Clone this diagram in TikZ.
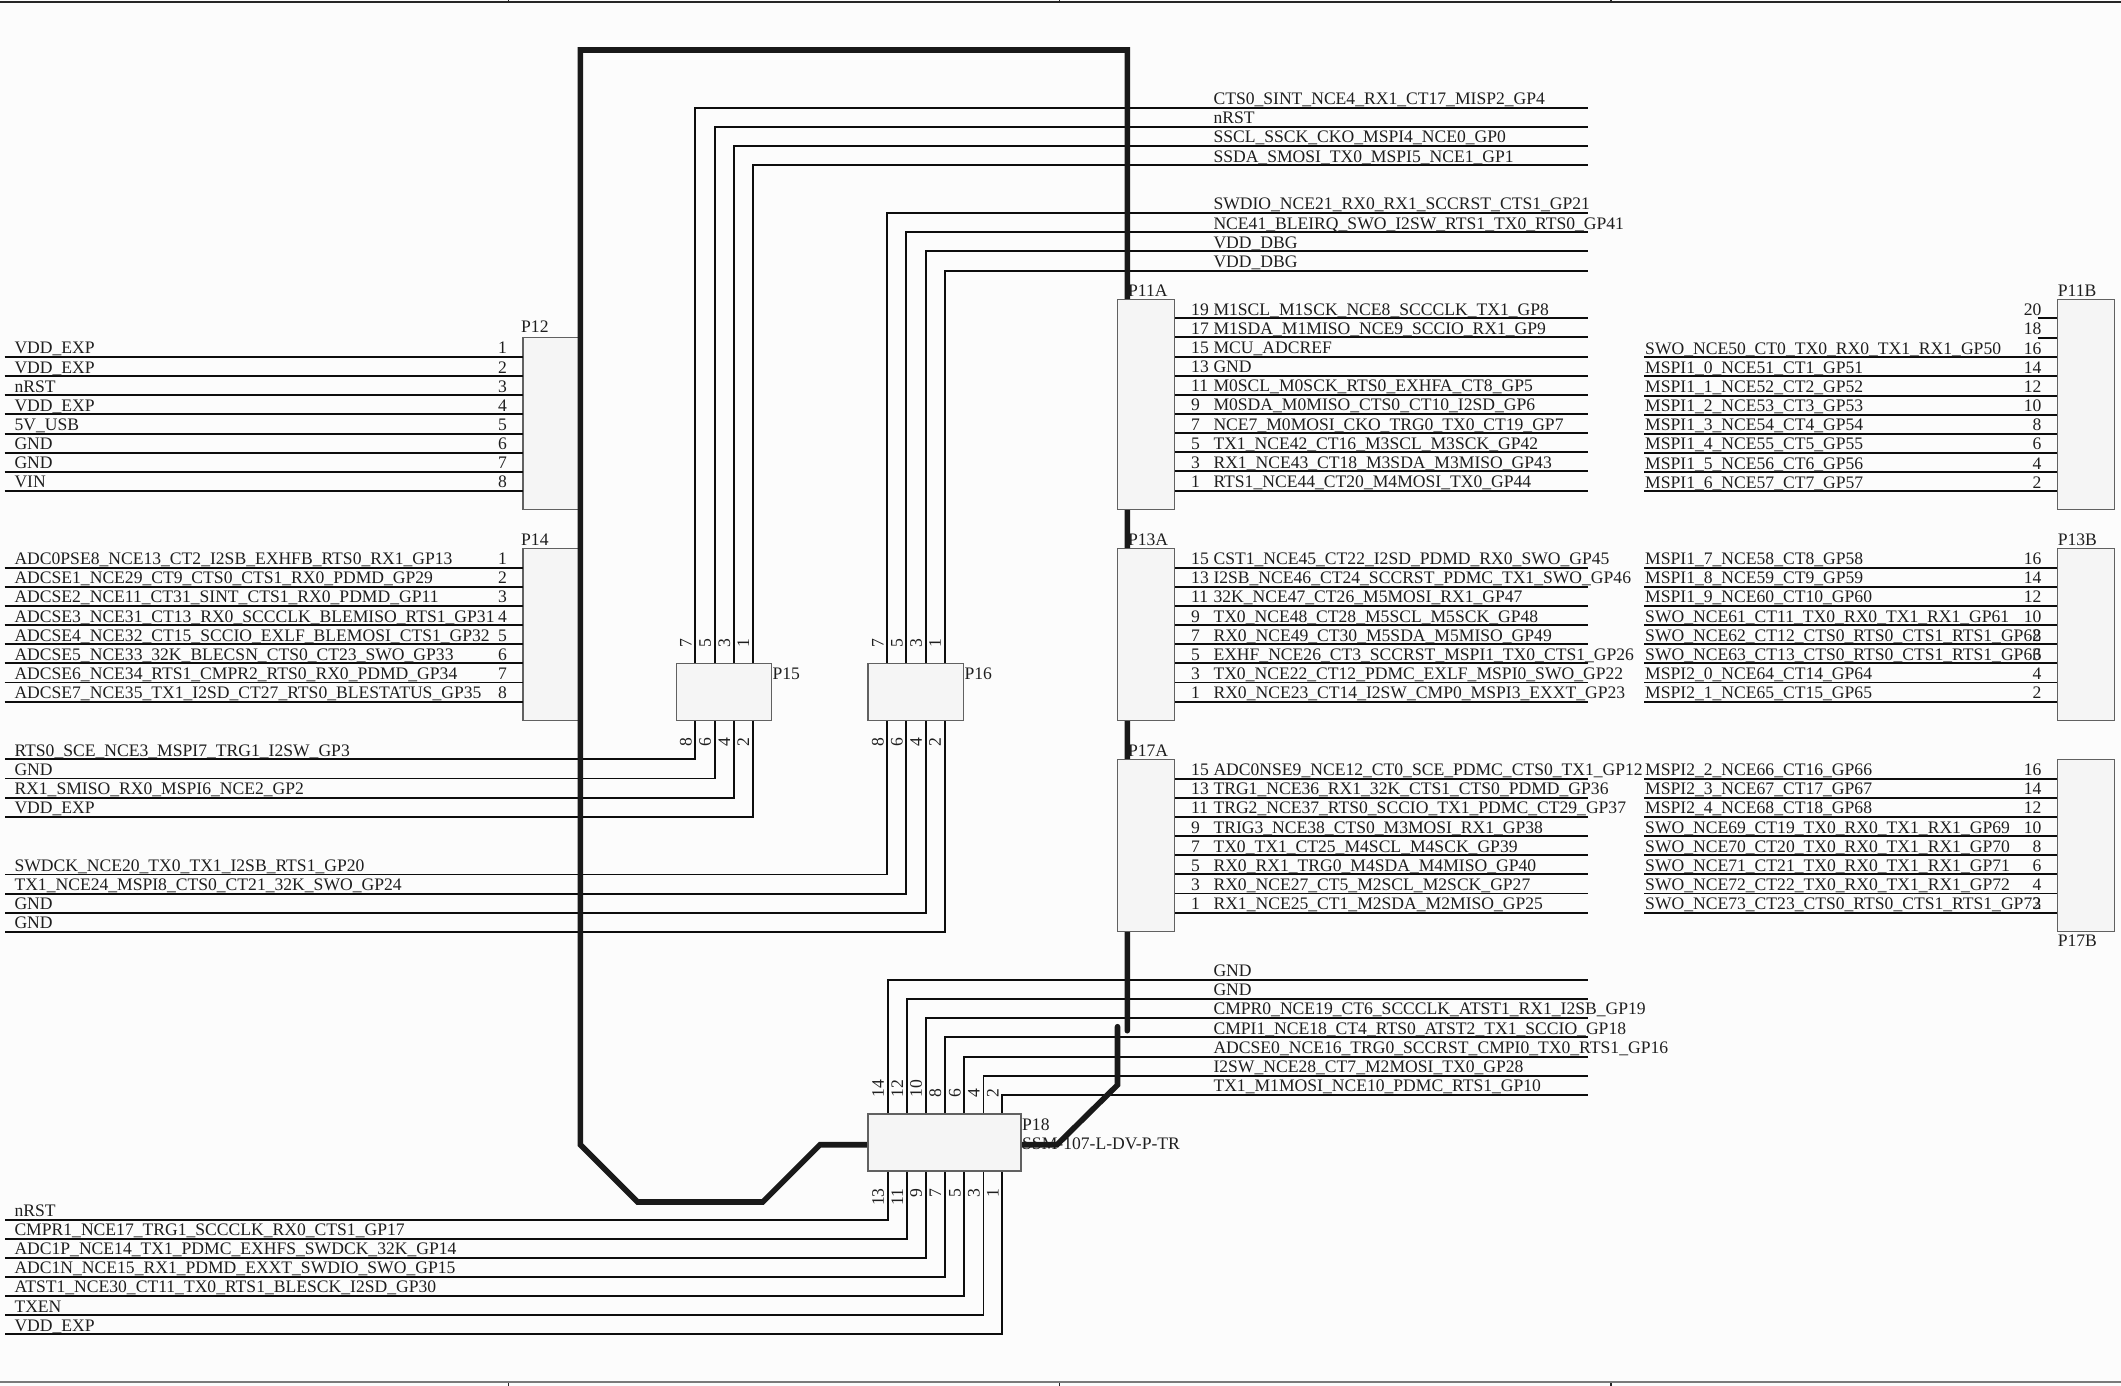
\documentclass[tikz,border=0pt]{standalone}
\usepackage{fontspec}
\setmainfont{Liberation Serif}
\pgfdeclarelayer{wires}
\pgfdeclarelayer{heavy}
\pgfsetlayers{wires,heavy,main}
\tikzset{
  wire/.style={draw=black!95,line width=1.9pt,line cap=butt,line join=miter},
  heavyline/.style={draw=black!90,line width=5.6pt,line cap=round,line join=miter},
  framebar/.style={draw=black!52,line width=2.4pt},
  framerule/.style={draw=black!85,line width=1.3pt},
  pbox/.style={draw=black!62,line width=1.4pt,fill=black!4,inner sep=0pt,outer sep=0pt,anchor=north west},
  txt/.style={inner sep=0pt,anchor=base west,font=\fontsize{17.6}{18}\selectfont,text=black!88},
  numr/.style={txt,anchor=base east},
  numtop/.style={txt,rotate=90,anchor=base west},
  numbot/.style={txt,rotate=90,anchor=base east}
}
% rows from far right end to a box on its left: label and pin number between
\newcommand\rowsA[3]{%
  \foreach[count=\i] \pn/\tx in {#3}{%
    \pgfmathsetmacro\yy{#2+(\i-1)*19.14}%
    \coordinate (#1E\i) at (1588,\yy);
    \draw[wire] (#1.east |- #1E\i) -- (#1E\i);
    \node[txt] (#1T\i) at (1213.3,\yy-3.1) {\tx};
    \node[txt] (#1N\i) at (1191,\yy-3.1) {\pn};
  }}
% rows from the left to a box on their right; #2 first row, #3 left end, #4 label x, #5 number right edge
\newcommand\rowsB[6]{%
  \foreach[count=\i] \pn/\tx in {#6}{%
    \pgfmathsetmacro\yy{#2+(\i-1)*19.14}%
    \coordinate (#1E\i) at (#3,\yy);
    \draw[wire] (#1E\i) -- (#1.west |- #1E\i);
    \node[txt] (#1T\i) at (#4,\yy-3.1) {\tx};
    \node[numr] (#1N\i) at (#5,\yy-3.1) {\pn};
  }}
% vertical pins leaving a box, bending to a horizontal run
\newcommand\vwires[7]{%
  \foreach[count=\i] \pn/\xx/\yy/\tx in {#7}{%
    \coordinate (#1#2x\i) at (\xx,0);
    \coordinate (#1#2e\i) at (#3,\yy);
    \coordinate (#1#2p\i) at (#1.#2 -| #1#2x\i);
    \draw[wire] (#1#2p\i) |- (#1#2e\i);
    \node[txt] (#1#2t\i) at (#4,\yy-3.1) {\tx};
    \node[#5] (#1#2n\i) at ([shift={(-3.8,#6)}]#1#2p\i) {\pn};
  }}
\begin{document}
\catcode`\_=12
\begin{tikzpicture}[x=1pt,y=-1pt]
\useasboundingbox (0,0) rectangle (2121,1386);
\begin{pgfonlayer}{wires}
\fill[black!1] (0,0) rectangle (2121,1386);
% sheet frame
\coordinate (ft0) at (0,2); \coordinate (ft1) at (2121,2);
\coordinate (fb0) at (0,1382.2); \coordinate (fb1) at (2121,1382.2);
\draw[framerule] (ft0) -- (ft1);
\draw[framebar] (fb0) -- (fb1);
\foreach \fx/\fn in {508.6/a,1059.8/b,1611/c}{
  \coordinate (tk\fn) at (\fx,0);
  \coordinate (bk\fn) at (\fx,1386);
  \draw[framerule] (tk\fn) -- (\fx,2);
  \draw[framerule] (bk\fn) -- (\fx,1383);
}
\node[pbox,minimum width=57.6pt,minimum height=172pt] (P12) at (522.8,337.7) {};
\node[pbox,minimum width=57.6pt,minimum height=172.4pt] (P14) at (522.8,548.3) {};
\end{pgfonlayer}

% boxes on top
\node[pbox,minimum width=57.2pt,minimum height=210.4pt] (P11A) at (1117.5,299.3) {};
\node[pbox,minimum width=57.2pt,minimum height=172pt] (P13A) at (1117.5,548.7) {};
\node[pbox,minimum width=57.2pt,minimum height=172pt] (P17A) at (1117.5,759.3) {};
\node[pbox,minimum width=57.4pt,minimum height=210pt] (P11B) at (2057.3,299.7) {};
\node[pbox,minimum width=57.4pt,minimum height=172pt] (P13B) at (2057.3,548.7) {};
\node[pbox,minimum width=57.4pt,minimum height=172pt] (P17B) at (2057.3,759.3) {};
\node[pbox,minimum width=95.4pt,minimum height=56.6pt] (P15) at (676.3,663.7) {};
\node[pbox,minimum width=95.4pt,minimum height=56.6pt] (P16) at (868,663.7) {};
\node[pbox,minimum width=153pt,minimum height=57pt] (P18) at (868,1114) {};

\begin{pgfonlayer}{wires}
\rowsB{P12}{357}{4.5}{14.3}{507}{1/VDD_EXP,2/VDD_EXP,3/nRST,4/VDD_EXP,5/5V_USB,6/GND,7/GND,8/VIN}
\rowsB{P14}{567.7}{4.5}{14.3}{507}{1/ADC0PSE8_NCE13_CT2_I2SB_EXHFB_RTS0_RX1_GP13,2/ADCSE1_NCE29_CT9_CTS0_CTS1_RX0_PDMD_GP29,3/ADCSE2_NCE11_CT31_SINT_CTS1_RX0_PDMD_GP11,4/ADCSE3_NCE31_CT13_RX0_SCCCLK_BLEMISO_RTS1_GP31,5/ADCSE4_NCE32_CT15_SCCIO_EXLF_BLEMOSI_CTS1_GP32,6/ADCSE5_NCE33_32K_BLECSN_CTS0_CT23_SWO_GP33,7/ADCSE6_NCE34_RTS1_CMPR2_RTS0_RX0_PDMD_GP34,8/ADCSE7_NCE35_TX1_I2SD_CT27_RTS0_BLESTATUS_GP35}
\rowsA{P11A}{318.3}{19/M1SCL_M1SCK_NCE8_SCCCLK_TX1_GP8,17/M1SDA_M1MISO_NCE9_SCCIO_RX1_GP9,15/MCU_ADCREF,13/GND,11/M0SCL_M0SCK_RTS0_EXHFA_CT8_GP5,9/M0SDA_M0MISO_CTS0_CT10_I2SD_GP6,7/NCE7_M0MOSI_CKO_TRG0_TX0_CT19_GP7,5/TX1_NCE42_CT16_M3SCL_M3SCK_GP42,3/RX1_NCE43_CT18_M3SDA_M3MISO_GP43,1/RTS1_NCE44_CT20_M4MOSI_TX0_GP44}
\rowsA{P13A}{567.7}{15/CST1_NCE45_CT22_I2SD_PDMD_RX0_SWO_GP45,13/I2SB_NCE46_CT24_SCCRST_PDMC_TX1_SWO_GP46,11/32K_NCE47_CT26_M5MOSI_RX1_GP47,9/TX0_NCE48_CT28_M5SCL_M5SCK_GP48,7/RX0_NCE49_CT30_M5SDA_M5MISO_GP49,5/EXHF_NCE26_CT3_SCCRST_MSPI1_TX0_CTS1_GP26,3/TX0_NCE22_CT12_PDMC_EXLF_MSPI0_SWO_GP22,1/RX0_NCE23_CT14_I2SW_CMP0_MSPI3_EXXT_GP23}
\rowsA{P17A}{778.7}{15/ADC0NSE9_NCE12_CT0_SCE_PDMC_CTS0_TX1_GP12,13/TRG1_NCE36_RX1_32K_CTS1_CTS0_PDMD_GP36,11/TRG2_NCE37_RTS0_SCCIO_TX1_PDMC_CT29_GP37,9/TRIG3_NCE38_CTS0_M3MOSI_RX1_GP38,7/TX0_TX1_CT25_M4SCL_M4SCK_GP39,5/RX0_RX1_TRG0_M4SDA_M4MISO_GP40,3/RX0_NCE27_CT5_M2SCL_M2SCK_GP27,1/RX1_NCE25_CT1_M2SDA_M2MISO_GP25}
% P11B: two short stubs, then full rows
\coordinate (P11BsA) at (2037.7,318.3);
\coordinate (P11BsB) at (2037.7,337.7);
\draw[wire] (P11BsA) -- (P11B.west |- P11BsA);
\draw[wire] (P11BsB) -- (P11B.west |- P11BsB);
\node[numr] (P11BnA) at (2041.7,315.2) {20};
\node[numr] (P11BnB) at (2041.7,334.6) {18};
\rowsB{P11B}{357.3}{1644.3}{1645}{2041.7}{16/SWO_NCE50_CT0_TX0_RX0_TX1_RX1_GP50,14/MSPI1_0_NCE51_CT1_GP51,12/MSPI1_1_NCE52_CT2_GP52,10/MSPI1_2_NCE53_CT3_GP53,8/MSPI1_3_NCE54_CT4_GP54,6/MSPI1_4_NCE55_CT5_GP55,4/MSPI1_5_NCE56_CT6_GP56,2/MSPI1_6_NCE57_CT7_GP57}
\rowsB{P13B}{567.7}{1644.3}{1645}{2041.7}{16/MSPI1_7_NCE58_CT8_GP58,14/MSPI1_8_NCE59_CT9_GP59,12/MSPI1_9_NCE60_CT10_GP60,10/SWO_NCE61_CT11_TX0_RX0_TX1_RX1_GP61,8/SWO_NCE62_CT12_CTS0_RTS0_CTS1_RTS1_GP62,6/SWO_NCE63_CT13_CTS0_RTS0_CTS1_RTS1_GP63,4/MSPI2_0_NCE64_CT14_GP64,2/MSPI2_1_NCE65_CT15_GP65}
\rowsB{P17B}{778.7}{1644.3}{1645}{2041.7}{16/MSPI2_2_NCE66_CT16_GP66,14/MSPI2_3_NCE67_CT17_GP67,12/MSPI2_4_NCE68_CT18_GP68,10/SWO_NCE69_CT19_TX0_RX0_TX1_RX1_GP69,8/SWO_NCE70_CT20_TX0_RX0_TX1_RX1_GP70,6/SWO_NCE71_CT21_TX0_RX0_TX1_RX1_GP71,4/SWO_NCE72_CT22_TX0_RX0_TX1_RX1_GP72,2/SWO_NCE73_CT23_CTS0_RTS0_CTS1_RTS1_GP73}
% P15
\vwires{P15}{north}{1588}{1213.3}{numtop}{-16.3}{7/695.3/107.7/CTS0_SINT_NCE4_RX1_CT17_MISP2_GP4,5/714.7/127/nRST,3/734/146/SSCL_SSCK_CKO_MSPI4_NCE0_GP0,1/753/165.3/SSDA_SMOSI_TX0_MSPI5_NCE1_GP1}
\vwires{P15}{south}{4.5}{14.3}{numbot}{17}{8/695.3/759.4/RTS0_SCE_NCE3_MSPI7_TRG1_I2SW_GP3,6/714.7/778.5/GND,4/734/797.6/RX1_SMISO_RX0_MSPI6_NCE2_GP2,2/753/816.8/VDD_EXP}
% P16
\vwires{P16}{north}{1588}{1213.3}{numtop}{-16.3}{7/887.3/213/SWDIO_NCE21_RX0_RX1_SCCRST_CTS1_GP21,5/906.3/232.3/NCE41_BLEIRQ_SWO_I2SW_RTS1_TX0_RTS0_GP41,3/925.7/251.3/VDD_DBG,1/944.7/270.7/VDD_DBG}
\vwires{P16}{south}{4.5}{14.3}{numbot}{17}{8/887.3/874.5/SWDCK_NCE20_TX0_TX1_I2SB_RTS1_GP20,6/906.3/893.7/TX1_NCE24_MSPI8_CTS0_CT21_32K_SWO_GP24,4/925.7/913/GND,2/944.7/932/GND}
% P18
\vwires{P18}{north}{1588}{1213.3}{numtop}{-16.8}{14/887.7/979.7/GND,12/907/999/GND,10/925.7/1018/CMPR0_NCE19_CT6_SCCCLK_ATST1_RX1_I2SB_GP19,8/945/1037.3/CMPI1_NCE18_CT4_RTS0_ATST2_TX1_SCCIO_GP18,6/964.3/1056.7/ADCSE0_NCE16_TRG0_SCCRST_CMPI0_TX0_RTS1_GP16,4/983.5/1076/I2SW_NCE28_CT7_M2MOSI_TX0_GP28,2/1002.3/1095/TX1_M1MOSI_NCE10_PDMC_RTS1_GP10}
\vwires{P18}{south}{5}{14.3}{numbot}{17}{13/887.7/1219.7/nRST,11/907/1238.7/CMPR1_NCE17_TRG1_SCCCLK_RX0_CTS1_GP17,9/925.7/1257.7/ADC1P_NCE14_TX1_PDMC_EXHFS_SWDCK_32K_GP14,7/945/1277/ADC1N_NCE15_RX1_PDMD_EXXT_SWDIO_SWO_GP15,5/964.3/1296/ATST1_NCE30_CT11_TX0_RTS1_BLESCK_I2SD_GP30,3/983.5/1315.3/TXEN,1/1002.3/1334.3/VDD_EXP}
% reference designators
\node[txt] (lP12) at (521,332.3) {P12};
\node[txt] (lP14) at (521,545.3) {P14};
\node[txt] (lP15) at (772.3,679.3) {P15};
\node[txt] (lP16) at (964.3,679.3) {P16};
\node[txt] (lP18) at (1022,1130) {P18};
\node[txt] (lP18b) at (1022,1149) {SSM-107-L-DV-P-TR};
\end{pgfonlayer}
\node[txt] (lP11A) at (1127.9,296.7) {P11A};
\node[txt] (lP13A) at (1127.9,545) {P13A};
\node[txt] (lP17A) at (1127.9,756.7) {P17A};
\node[txt] (lP11B) at (2057.6,296) {P11B};
\node[txt] (lP13B) at (2057.6,545) {P13B};
\node[txt] (lP17B) at (2057.6,946.7) {P17B};

% heavy traces
\begin{pgfonlayer}{heavy}
\coordinate (hA) at (820,1144.7);
\coordinate (hB) at (762.7,1202);
\coordinate (hC) at (637.7,1202);
\coordinate (hD) at (580.3,1144.7);
\coordinate (hE) at (580.3,50);
\coordinate (hF) at (1127.3,50);
\coordinate (hG) at (1127.3,1030.7);
\draw[heavyline] (P18.west |- hA) -- (hA) -- (hB) -- (hC) -- (hD) -- (hE) -- (hF) -- (hG);
\coordinate (hP) at (1057,1144.7);
\coordinate (hQ) at (1117.5,1085);
\coordinate (hR) at (1117.5,1026.7);
\draw[heavyline] (P18.east |- hP) -- (hP) -- (hQ) -- (hR);
\end{pgfonlayer}
\end{tikzpicture}
\end{document}
